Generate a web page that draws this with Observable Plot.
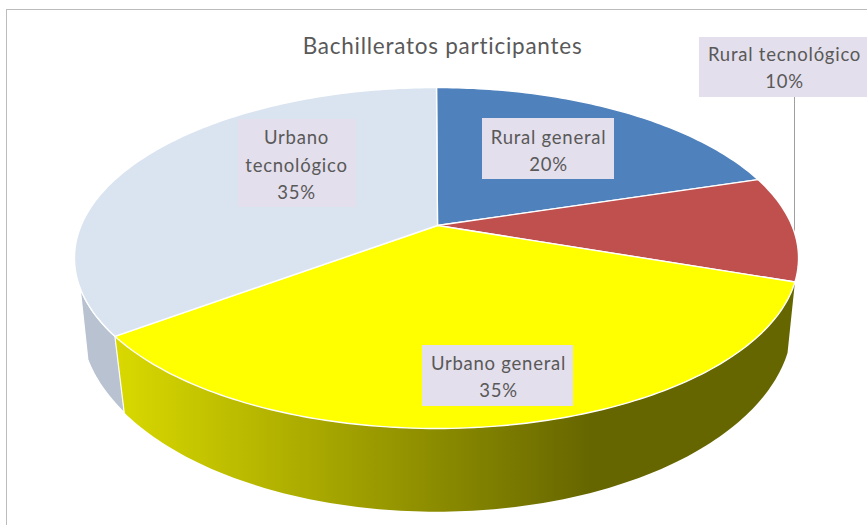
<!DOCTYPE html>
<html lang="es">
<head>
<meta charset="utf-8">
<script src="https://cdn.jsdelivr.net/npm/d3@7"></script>
<script src="https://cdn.jsdelivr.net/npm/@observablehq/plot@0.6"></script>
<style>html,body{margin:0;padding:0;background:#fff;overflow:hidden}svg{display:block}</style>
</head>
<body>
<script>
const chartTitle = "Bachilleratos participantes";
const categories = ["Rural general", "Rural tecnológico", "Urbano general", "Urbano tecnológico"];
const shares = [20, 10, 35, 35];
const sliceColors = ["#4f81bd", "#c0504d", "#ffff00", "#dae4f0"];
const labelLines = [["Rural general"], ["Rural tecnológico"], ["Urbano general"], ["Urbano", "tecnológico"]];

// Where each label sits on the page (page pixels)
const labelLayout = [
  {x1: 482, x2: 614, y1: 118, y2: 179, cx: 548, cy: 148.5},
  {x1: 699, x2: 867, y1: 37, y2: 97, cx: 784, cy: 65},
  {x1: 422, x2: 573, y1: 345, y2: 406, cx: 498, cy: 374.5},
  {x1: 238, x2: 356, y1: 119, y2: 207, cx: 296, cy: 162.5}
];

// Perspective projection of the pie's top and bottom discs
const topDisc = {cx: 436, cy: 227.5, b: 356.4, a: 165.2, k: 0.176};
const bottomDisc = {cx: 436, cy: 292, b: 352, a: 186.3, k: 0.15};
const apex = {x: 437, y: 225};
function project(disc, deg) {
  const t = deg * Math.PI / 180, u = Math.sin(t), v = Math.cos(t), d = 1 + disc.k * v;
  return {x: disc.cx + disc.b * u / d, y: disc.cy - disc.a * v / d};
}
function arc(disc, from, to) {
  const n = Math.max(2, Math.ceil(Math.abs(to - from)));
  return d3.range(n + 1).map(i => project(disc, from + (to - from) * i / n));
}

const total = d3.sum(shares);
let running = 0;
const slices = shares.map((s, i) => {
  const from = running / total * 360;
  running += s;
  return {i, from, to: running / total * 360};
});

const topPolys = slices.flatMap(s => {
  const pts = [apex, ...arc(topDisc, s.from, s.to), apex];
  return pts.map(p => ({...p, id: s.i, color: sliceColors[s.i]}));
});

function wall(from, to) {
  const a = arc(topDisc, from, to), b = arc(bottomDisc, to, from);
  return [...a, ...b, a[0]];
}
const yellow = slices[2], pale = slices[3];
const wallYellow = wall(yellow.from, yellow.to);
const wallPale = wall(pale.from, 250); // silhouette ends where the disc turns away

const gradient = () => {
  const defs = d3.create("svg:defs");
  const g = defs.append("linearGradient").attr("id", "wallGrad")
    .attr("gradientUnits", "userSpaceOnUse")
    .attr("x1", 116).attr("x2", 590).attr("y1", 0).attr("y2", 0);
  g.append("stop").attr("offset", 0).attr("stop-color", "#d9d900");
  g.append("stop").attr("offset", 1).attr("stop-color", "#666600");
  return defs.node();
};

const labels = labelLayout.map((l, i) => ({
  ...l,
  text: [...labelLines[i], shares[i] + "%"].join("\n")
}));

const font = "Lato, Carlito, Calibri, 'Noto Sans', sans-serif";

const chart = Plot.plot({
  width: 867, height: 525,
  margin: 0,
  style: {background: "#fff", fontFamily: font, letterSpacing: "0.75px"},
  x: {axis: null, domain: [0, 867], range: [0, 867]},
  y: {axis: null, domain: [0, 525], range: [0, 525]},
  marks: [
    gradient,
    Plot.ruleY([9], {x1: 6, x2: 867, stroke: "#bcbcbc", strokeWidth: 1}),
    Plot.ruleX([6], {y1: 9, y2: 525, stroke: "#bcbcbc", strokeWidth: 1}),
    Plot.ruleX([794], {y1: 97, y2: 240, stroke: "#a0a0a0", strokeWidth: 1}),
    Plot.line(wallYellow, {x: "x", y: "y", fill: "url(#wallGrad)", stroke: "none"}),
    Plot.line(wallPale, {x: "x", y: "y", fill: "#b8c2d0", stroke: "#fff", strokeWidth: 1.2, strokeLinejoin: "round"}),
    Plot.line(topPolys, {x: "x", y: "y", z: "id", fill: "color", stroke: "#fff", strokeWidth: 1.4, strokeLinejoin: "round"}),
    Plot.rect(labels, {x1: "x1", x2: "x2", y1: "y1", y2: "y2", fill: "#e4dfec"}),
    Plot.text(labels, {x: "cx", y: "cy", text: "text", fontSize: 18.5, lineHeight: 1.48, fill: "#595959", textAnchor: "middle"}),
    Plot.text([chartTitle], {x: 442, y: 46, text: d => d, fontSize: 22.5, fill: "#595959", textAnchor: "middle"})
  ]
});
document.body.appendChild(chart);
</script>
</body>
</html>
